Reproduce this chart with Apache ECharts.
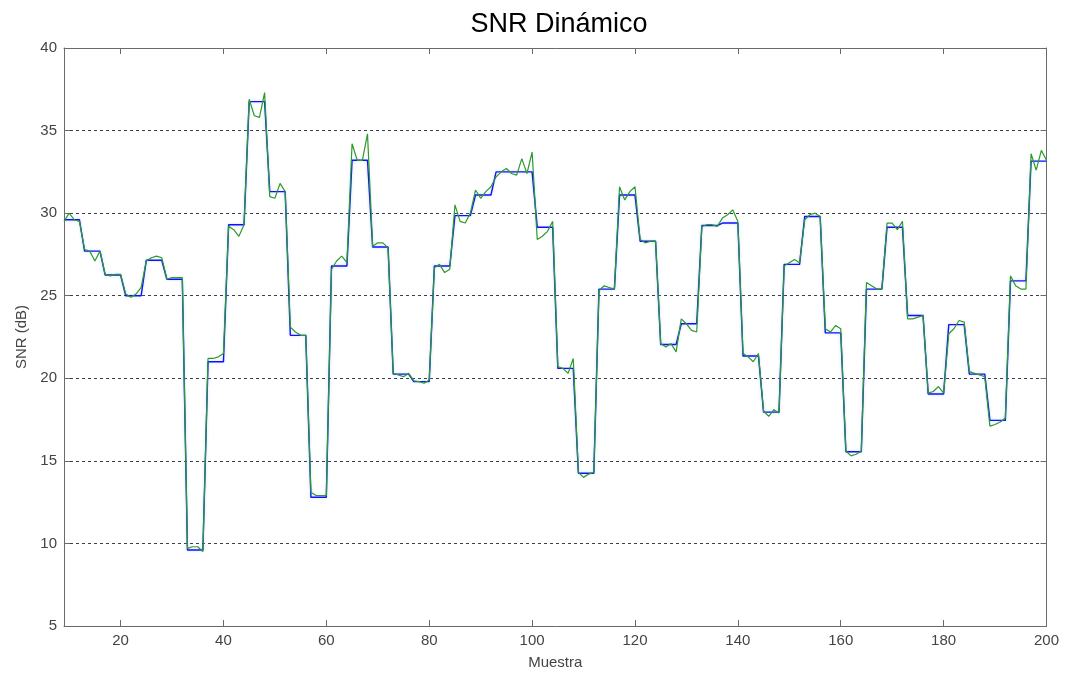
<!DOCTYPE html>
<html><head><meta charset="utf-8">
<script src="https://cdn.jsdelivr.net/npm/echarts@6/dist/echarts.min.js"></script>
<style>html,body{margin:0;padding:0;background:#fff}#c{width:1072px;height:675px}</style>
</head><body><div id="c"></div>
<script>
const chartTitle = 'SNR Dinámico';
const xName = 'Muestra';
const yName = 'SNR (dB)';
const xStart = 9;          // first sample index
const xTicks = [20, 40, 60, 80, 100, 120, 140, 160, 180, 200];
const yTicks = [5, 10, 15, 20, 25, 30, 35, 40];

// green: measured SNR, one value per sample (x = 9 .. 200)
const snrReal = [
  29.5, 30.0, 29.6, 29.5, 27.8, 27.7, 27.1, 27.7, 26.3, 26.2, 26.3, 26.3,
  25.1, 24.9, 25.1, 25.5, 27.1, 27.3, 27.4, 27.3, 26.0, 26.1, 26.1, 26.1,
  9.7, 9.8, 9.8, 9.5, 21.2, 21.2, 21.3, 21.5, 29.2, 29.0, 28.6, 29.3,
  36.9, 35.9, 35.8, 37.3, 31.0, 30.9, 31.8, 31.3, 23.1, 22.8, 22.6, 22.6,
  13.1, 12.9, 12.9, 12.9, 26.6, 27.1, 27.4, 27.0, 34.2, 33.2, 33.2, 34.8,
  28.0, 28.2, 28.2, 27.9, 20.3, 20.2, 20.1, 20.3, 19.85, 19.8, 19.7, 19.9,
  26.7, 26.9, 26.4, 26.6, 30.5, 29.5, 29.4, 30.0, 31.4, 30.9, 31.3, 31.6,
  32.2, 32.5, 32.7, 32.4, 32.3, 33.3, 32.4, 33.7, 28.4, 28.6, 28.9, 29.5,
  20.7, 20.6, 20.3, 21.2, 14.3, 14.0, 14.2, 14.3, 25.3, 25.6, 25.5, 25.4,
  31.6, 30.8, 31.3, 31.6, 28.4, 28.2, 28.3, 28.3, 22.1, 21.9, 22.1, 21.6,
  23.6, 23.3, 22.9, 22.8, 29.2, 29.3, 29.3, 29.2, 29.7, 29.9, 30.2, 29.5,
  21.5, 21.3, 21.0, 21.5, 18.0, 17.7, 18.1, 17.9, 26.8, 27.0, 27.2, 27.0,
  29.6, 29.9, 30.0, 29.8, 23.0, 22.8, 23.2, 23.0, 15.6, 15.3, 15.4, 15.6,
  25.8, 25.6, 25.4, 25.4, 29.4, 29.4, 29.0, 29.5, 23.6, 23.6, 23.7, 23.8,
  19.1, 19.2, 19.5, 19.1, 22.7, 23.0, 23.5, 23.4, 20.4, 20.3, 20.2, 20.1,
  17.1, 17.2, 17.35, 17.6, 26.2, 25.6, 25.4, 25.4, 33.6, 32.6, 33.8, 33.2
];

// blue: held level, one value per block of 4 samples
const blockSize = 4;
const snrBlock = [
  29.6, 27.7, 26.25, 25.0, 27.15, 26.0, 9.6, 21.0, 29.3, 36.75, 31.3, 22.6,
  12.8, 26.8, 33.2, 27.95, 20.25, 19.8, 26.8, 29.85, 31.1, 32.5, 32.5, 29.15,
  20.6, 14.25, 25.4, 31.1, 28.3, 22.05, 23.3, 29.25, 29.4, 21.35, 17.95, 26.9,
  29.8, 22.75, 15.55, 25.4, 29.15, 23.8, 19.05, 23.25, 20.25, 17.45, 25.9, 33.15
];

const realData = snrReal.map((v, i) => [xStart + i, v]);
const blockData = snrReal.map((_, i) => [xStart + i, snrBlock[Math.floor(i / blockSize)]]);

const FONT = 'Liberation Sans, Arial, sans-serif';
const axisGray = '#6a6a6a';
const chart = echarts.init(document.getElementById('c'), null, {renderer: 'canvas'});
chart.setOption({
  animation: false,
  backgroundColor: '#ffffff',
  title: {
    text: chartTitle, left: 554, top: 6, textAlign: 'center',
    textStyle: {fontFamily: FONT, fontSize: 27, fontWeight: 'normal', color: '#000'}
  },
  grid: {left: 64, right: 25.5, top: 48, bottom: 45.5, containLabel: false},
  xAxis: [{
    type: 'value', min: xStart, max: 200, position: 'bottom',
    name: xName, nameLocation: 'middle', nameGap: 29,
    nameTextStyle: {fontFamily: FONT, fontSize: 15, color: '#444'},
    axisLine: {show: true, onZero: false, lineStyle: {color: axisGray, width: 1}},
    axisTick: {show: true, inside: true, length: 6, customValues: xTicks, lineStyle: {color: axisGray}},
    axisLabel: {show: true, customValues: xTicks, fontFamily: FONT, fontSize: 15, color: '#444', margin: 7},
    splitLine: {show: false}
  }, {
    type: 'value', min: xStart, max: 200, position: 'top',
    axisLine: {show: true, onZero: false, lineStyle: {color: axisGray, width: 1}},
    axisTick: {show: true, inside: true, length: 6, customValues: xTicks, lineStyle: {color: axisGray}},
    axisLabel: {show: false},
    splitLine: {show: false}
  }],
  yAxis: [{
    type: 'value', min: 5, max: 40, interval: 5, position: 'left',
    name: yName, nameLocation: 'middle', nameGap: 34,
    nameTextStyle: {fontFamily: FONT, fontSize: 15, color: '#444'},
    axisLine: {show: true, onZero: false, lineStyle: {color: axisGray, width: 1}},
    axisTick: {show: true, inside: true, length: 6, lineStyle: {color: axisGray}},
    axisLabel: {show: true, customValues: yTicks, fontFamily: FONT, fontSize: 15, color: '#444', margin: 7},
    splitLine: {show: true, showMinLine: false, showMaxLine: false,
      lineStyle: {type: [3, 3], color: '#3c3c50', width: 1}}
  }, {
    type: 'value', min: 5, max: 40, interval: 5, position: 'right',
    axisLine: {show: true, onZero: false, lineStyle: {color: axisGray, width: 1}},
    axisTick: {show: true, inside: true, length: 6, lineStyle: {color: axisGray}},
    axisLabel: {show: false},
    splitLine: {show: false}
  }],
  series: [{
    name: 'bloque', type: 'line', xAxisIndex: 0, yAxisIndex: 0,
    data: blockData, showSymbol: false, symbol: 'none',
    lineStyle: {color: '#1010ff', width: 1.4, shadowColor: 'rgba(150,190,240,0.6)', shadowBlur: 3},
    z: 3
  }, {
    name: 'real', type: 'line', xAxisIndex: 0, yAxisIndex: 0,
    data: realData, showSymbol: false, symbol: 'none',
    lineStyle: {color: '#2c9a2c', width: 1.2},
    z: 4
  }]
});
</script>
</body></html>
